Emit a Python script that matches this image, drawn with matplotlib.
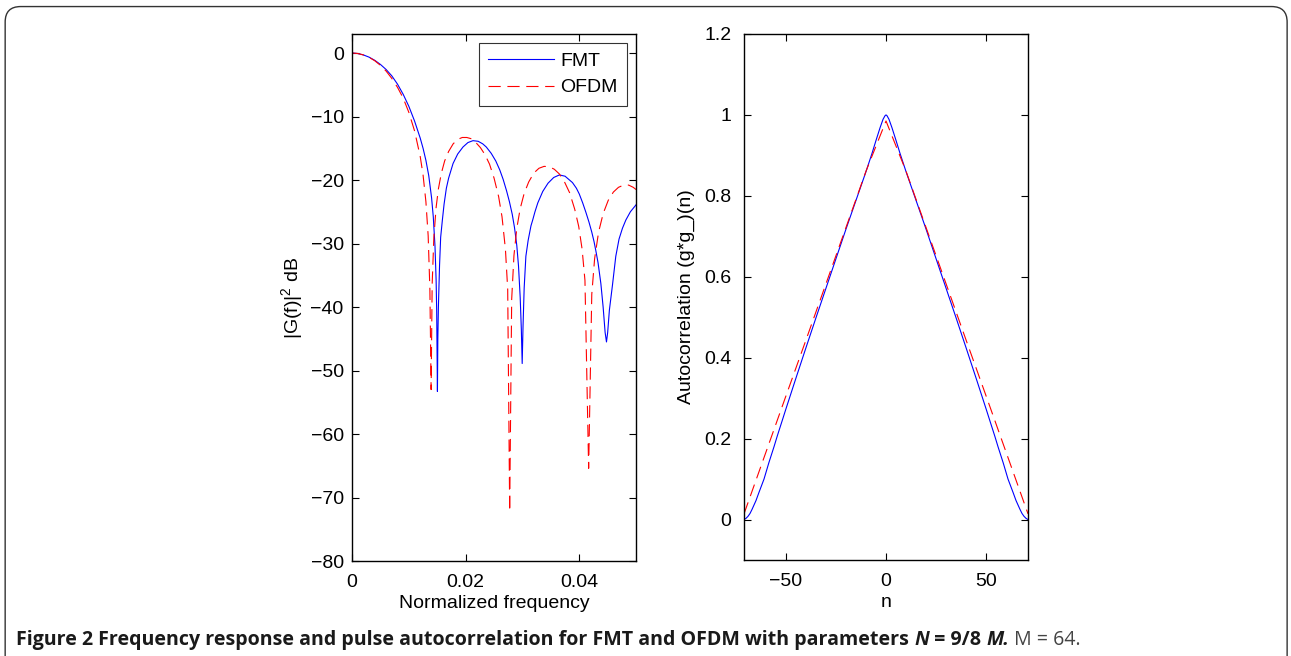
import numpy as np
import matplotlib
matplotlib.use("Agg")
import matplotlib.pyplot as plt
from matplotlib.patches import FancyBboxPatch

plt.rcParams['font.family'] = ['Liberation Sans', 'DejaVu Sans']
plt.rcParams['mathtext.fontset'] = 'custom'
plt.rcParams['mathtext.rm'] = 'Liberation Sans'
plt.rcParams['mathtext.it'] = 'Liberation Sans:italic'

# left panel: |G(f)|^2 in dB
fmt_f = [0, 0.001, 0.002, 0.003, 0.004, 0.005, 0.006, 0.007, 0.008, 0.009,
         0.010, 0.011, 0.012, 0.0125, 0.013, 0.0135, 0.014, 0.0143, 0.0146, 0.0148,
         0.0149, 0.01503, 0.0151, 0.0152, 0.0154, 0.0156, 0.0159, 0.0162, 0.0166, 0.0170,
         0.01778, 0.0186, 0.01953, 0.0204, 0.02129, 0.0222, 0.0230, 0.02363, 0.0245, 0.0253,
         0.0260, 0.0266, 0.0272, 0.0277, 0.0282, 0.0286, 0.0290, 0.0293, 0.0296, 0.0298,
         0.02995, 0.0301, 0.0303, 0.0306, 0.0310, 0.0315, 0.0318, 0.0322, 0.0327, 0.03357,
         0.0345, 0.0355, 0.0365, 0.0375, 0.0388, 0.0395, 0.0400, 0.0406, 0.04117, 0.0417,
         0.0422, 0.0426, 0.04293, 0.0433, 0.0438, 0.0442, 0.04455, 0.04479, 0.0450, 0.0453,
         0.04585, 0.04643, 0.0470, 0.0476, 0.0482, 0.0490, 0.0500]
fmt_db = [0, -0.08, -0.3, -0.65, -1.15, -1.8, -2.6, -3.6, -4.9, -6.5,
          -8.4, -10.7, -13.4, -15.0, -16.9, -19.3, -22.8, -25.8, -30.4, -35.8,
          -40.7, -53.3, -45, -40, -33.5, -29.0, -26.3, -23.8, -21.3, -19.7,
          -17.4, -15.9, -14.8, -14.1, -13.8, -13.9, -14.3, -14.8, -15.8, -17.0,
          -18.4, -19.9, -21.7, -23.4, -25.4, -27.5, -30.3, -33.5, -38.5, -43.5,
          -48.9, -43, -37, -32, -29.5, -27.2, -26.3, -25.0, -23.6, -21.8,
          -20.5, -19.6, -19.2, -19.4, -20.4, -21.3, -22.2, -23.6, -25.1, -26.6,
          -28.2, -29.7, -31.2, -33.0, -36.3, -40.0, -44.0, -45.5, -44.0, -40.5,
          -36.5, -32.0, -29.3, -27.6, -26.3, -25.0, -23.9]

ofdm_f = [0, 0.001, 0.002, 0.003, 0.004, 0.005, 0.006, 0.007, 0.008, 0.009,
          0.010, 0.011, 0.012, 0.0125, 0.013, 0.0134, 0.0137, 0.01392, 0.0141, 0.0144,
          0.0148, 0.0152, 0.0157, 0.0163, 0.0170, 0.0178, 0.0186, 0.0194, 0.0202, 0.0210,
          0.0218, 0.0226, 0.0234, 0.0242, 0.0250, 0.0258, 0.0264, 0.0270, 0.0274, 0.02775,
          0.0281, 0.0285, 0.0290, 0.0296, 0.0303, 0.0311, 0.0320, 0.0329, 0.0338, 0.0347,
          0.0356, 0.0365, 0.0374, 0.0383, 0.0392, 0.0399, 0.0405, 0.0410, 0.04165, 0.0422,
          0.0427, 0.0434, 0.0442, 0.0451, 0.0460, 0.0469, 0.0478, 0.0487, 0.0495, 0.0500]
ofdm_db = [0, -0.07, -0.3, -0.68, -1.22, -1.94, -2.85, -4.0, -5.4, -7.1,
           -9.35, -12.25, -16.3, -19.2, -23.4, -28.8, -37.2, -53, -36.5, -29.0,
           -24.3, -21.4, -19.0, -17.0, -15.5, -14.3, -13.6, -13.3, -13.3, -13.5,
           -14.1, -14.9, -16.0, -17.5, -19.7, -22.6, -25.8, -30.9, -37.2, -72.2,
           -38.8, -31.9, -27.6, -24.5, -22.1, -20.3, -18.9, -18.15, -17.85, -17.9,
           -18.3, -19.05, -20.3, -22.0, -24.6, -27.3, -30.9, -35.8, -65.4, -38.0,
           -32.4, -28.2, -25.3, -23.2, -21.9, -21.15, -20.8, -20.8, -21.15, -21.5]

# right panel: pulse autocorrelation
fmt_n = [-71, -70, -69, -68, -67, -65, -63.6, -61, -58.6, -56, -54.4, -52, -50, -45,
         -40, -35, -30, -25, -20, -15, -10, -7, -5, -3, -1.5, -0.5, 0,
         0.5, 1.5, 3, 5, 7, 10, 15, 20, 25, 30, 35, 40, 45, 50, 52, 54.4, 56,
         58.6, 61, 63.6, 65, 67, 68, 69, 70, 71]
fmt_ac = [0.0, 0.003, 0.008, 0.015, 0.025, 0.047, 0.066, 0.10, 0.14, 0.18, 0.206, 0.243, 0.274, 0.35,
          0.425, 0.499, 0.572, 0.645, 0.718, 0.789, 0.86, 0.905, 0.937, 0.968, 0.989, 0.998, 1.0,
          0.998, 0.989, 0.968, 0.937, 0.905, 0.86, 0.789, 0.718, 0.645, 0.572, 0.499, 0.425, 0.35, 0.274,
          0.243, 0.206, 0.18, 0.14, 0.10, 0.066, 0.047, 0.025, 0.015, 0.008, 0.003, 0.0]

ofdm_n = [-71, -60, -50, -40, -30, -20, -10, 0, 10, 20, 30, 40, 50, 60, 71]
ofdm_ac = [0.014, 0.167, 0.306, 0.444, 0.583, 0.722, 0.861, 0.985, 0.861, 0.722, 0.583, 0.444,
           0.306, 0.167, 0.014]

freq_ticks = [0, 0.02, 0.04]
freq_labels = ['0', '0.02', '0.04']
db_ticks = [-80, -70, -60, -50, -40, -30, -20, -10, 0]
n_ticks = [-50, 0, 50]
ac_ticks = [0, 0.2, 0.4, 0.6, 0.8, 1.0, 1.2]
ac_labels = ['0', '0.2', '0.4', '0.6', '0.8', '1', '1.2']

fig = plt.figure(figsize=(12.91, 6.56), dpi=100)

# rounded frame around the figure
frame = FancyBboxPatch((0.004, -0.05), 0.993, 1.04, boxstyle="round,pad=0,rounding_size=0.012",
                       transform=fig.transFigure, fill=False, edgecolor='#333333', lw=1.0,
                       mutation_aspect=1291 / 656)
fig.patches.append(frame)

blue = '#0000ff'
red = '#ff0000'
fs = 14
dash = (11, 6)

ax1 = fig.add_axes([0.2727, 0.1448, 0.2200, 0.8034])
ax1.plot(fmt_f, fmt_db, color=blue, lw=0.8, label='FMT')
ax1.plot(ofdm_f, ofdm_db, color=red, lw=0.8, dashes=dash, label='OFDM')
ax1.set_xlim(0, 0.05)
ax1.set_ylim(-80, 3)
ax1.set_xticks(freq_ticks)
ax1.set_xticklabels(freq_labels)
ax1.set_yticks(db_ticks)
leg = ax1.legend(loc='upper right', fontsize=fs, frameon=True, fancybox=False,
                 handlelength=3.4, borderaxespad=0.45, borderpad=0.5, labelspacing=0.45,
                 handletextpad=0.3)
leg.get_frame().set_edgecolor('black')
leg.get_frame().set_linewidth(0.8)

ax2 = fig.add_axes([0.5763, 0.1463, 0.2200, 0.8019])
ax2.plot(fmt_n, fmt_ac, color=blue, lw=0.8)
ax2.plot(ofdm_n, ofdm_ac, color=red, lw=0.8, dashes=dash)
ax2.set_xlim(-71, 71)
ax2.set_ylim(-0.1, 1.2)
ax2.set_xticks(n_ticks)
ax2.set_yticks(ac_ticks)
ax2.set_yticklabels(ac_labels)

for ax in (ax1, ax2):
    ax.tick_params(direction='in', top=True, right=True, length=5, width=0.8,
                   labelsize=fs, colors='black')
    ax.tick_params(axis='x', pad=9)
    for s in ax.spines.values():
        s.set_linewidth(1.0)
ax1.tick_params(axis='y', pad=6)
ax2.tick_params(axis='y', pad=9)

ax1.set_xlabel('Normalized frequency', fontsize=fs, labelpad=3)
ax1.set_ylabel('|G(f)|$^2$ dB', fontsize=fs, labelpad=4)
ax2.set_xlabel('n', fontsize=fs, labelpad=3)
ax2.set_ylabel('Autocorrelation (g*g_)(n)', fontsize=fs, labelpad=7)

# caption, written piece by piece and scaled to the caption width
cap_font = ['Open Sans', 'DejaVu Sans']
pieces = [
    ("Figure 2", 'bold', 'normal', '#1a1a1a'),
    (" Frequency response and pulse autocorrelation for FMT and OFDM with parameters ", 'bold', 'normal', '#1a1a1a'),
    ("N", 'bold', 'italic', '#1a1a1a'),
    (" = 9/8 ", 'bold', 'normal', '#1a1a1a'),
    ("M.", 'bold', 'italic', '#1a1a1a'),
    (" M = 64.", 'normal', 'normal', '#444444'),
]
fig.canvas.draw()
renderer = fig.canvas.get_renderer()


def place_caption(size):
    x = 16
    made = []
    for txt, w, st, c in pieces:
        t = fig.text(x / 1291, 1 - 640 / 656, txt, fontsize=size, fontweight=w, fontstyle=st,
                     color=c, family=cap_font, va='center', ha='left')
        x += t.get_window_extent(renderer).width
        made.append(t)
    return x, made


end, made = place_caption(12)
for t in made:
    t.remove()
place_caption(12 * (1082 - 16) / (end - 16))

fig.savefig('out.png', dpi=100)
